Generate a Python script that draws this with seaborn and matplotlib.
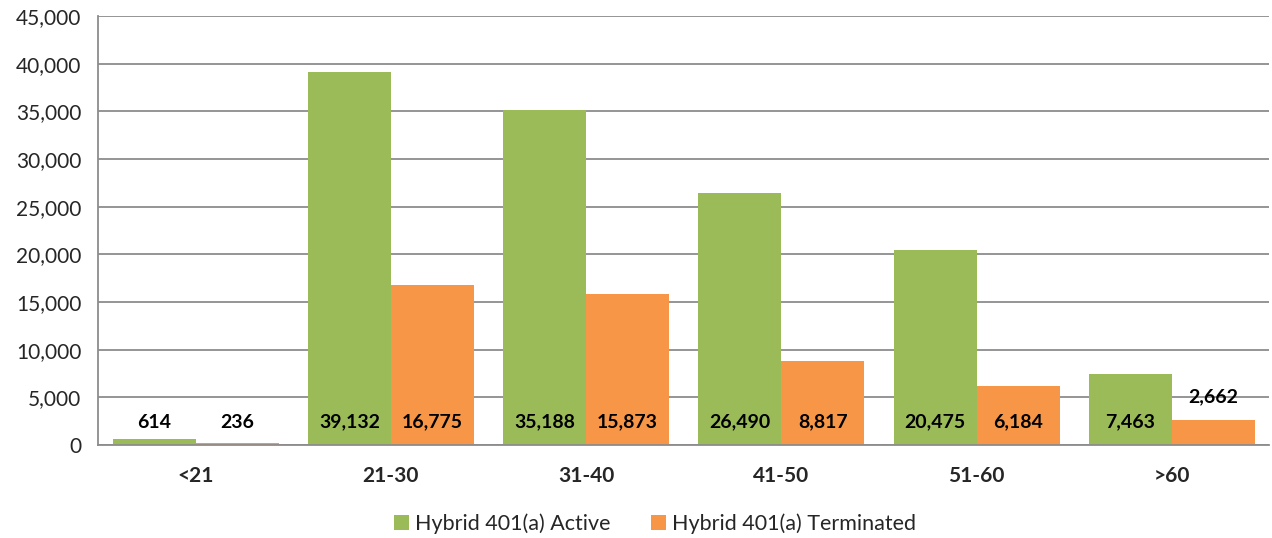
import pandas as pd
import matplotlib.pyplot as plt
import seaborn as sns
from matplotlib.ticker import FuncFormatter, FixedLocator

# --- datos ---
grupos_edad = ['<21', '21-30', '31-40', '41-50', '51-60', '>60']
activos = [614, 39132, 35188, 26490, 20475, 7463]
terminados = [236, 16775, 15873, 8817, 6184, 2662]
series = ['Hybrid 401(a) Active', 'Hybrid 401(a) Terminated']
colores = ['#9BBB59', '#F79646']

df = pd.DataFrame({
    'grupo': grupos_edad * 2,
    'valor': activos + terminados,
    'serie': [series[0]] * len(grupos_edad) + [series[1]] * len(grupos_edad),
})

sns.set_style("white")
plt.rcParams['font.family'] = ['Lato', 'DejaVu Sans']

fig = plt.figure(figsize=(12.72, 5.38), dpi=100)
ax = fig.add_axes([0.077, 0.173, 0.921, 0.797])

sns.barplot(data=df, x='grupo', y='valor', hue='serie', order=grupos_edad,
            hue_order=series, palette=colores, width=0.85, saturation=1,
            gap=0, linewidth=0, ax=ax)

# etiquetas de valor
for cont in ax.containers:
    for barra in cont:
        v = barra.get_height()
        if 1000 < v < 4000:
            y = v + 2350
        else:
            y = 2400
        ax.text(barra.get_x() + barra.get_width() / 2, y, f'{v:,.0f}',
                ha='center', va='center', fontsize=14, fontweight='bold',
                color='black')

ax.set_ylim(0, 45000)
ax.set_xlim(-0.5, 5.5)
ax.set_yticks(range(0, 45001, 5000))
ax.yaxis.set_major_formatter(FuncFormatter(lambda v, p: f'{v:,.0f}'))
ax.grid(axis='y', color='#8c8c8c', linewidth=1.3)
ax.set_axisbelow(True)
ax.set_xlabel('')
ax.set_ylabel('')

for lado in ['top', 'right']:
    ax.spines[lado].set_visible(False)
for lado in ['left', 'bottom']:
    ax.spines[lado].set_color('#8c8c8c')
    ax.spines[lado].set_linewidth(1.3)

ax.tick_params(axis='y', which='major', length=6, color='#8c8c8c', width=1.3,
               labelsize=15, pad=6)
ax.tick_params(axis='x', which='major', length=0, labelsize=15, pad=15)
ax.xaxis.set_minor_locator(FixedLocator([i - 0.5 for i in range(7)]))
ax.tick_params(axis='x', which='minor', length=7, color='#8c8c8c', width=1.3)
for t in ax.get_xticklabels():
    t.set_fontweight('bold')

handles, labels = ax.get_legend_handles_labels()
ax.get_legend().remove()
fig.legend(handles, labels, loc='center', bbox_to_anchor=(0.515, 0.026),
           ncol=2, frameon=False, fontsize=15.5, handlelength=0.7,
           handleheight=0.7, handletextpad=0.25, columnspacing=1.9)

plt.savefig('out.png', dpi=100)
